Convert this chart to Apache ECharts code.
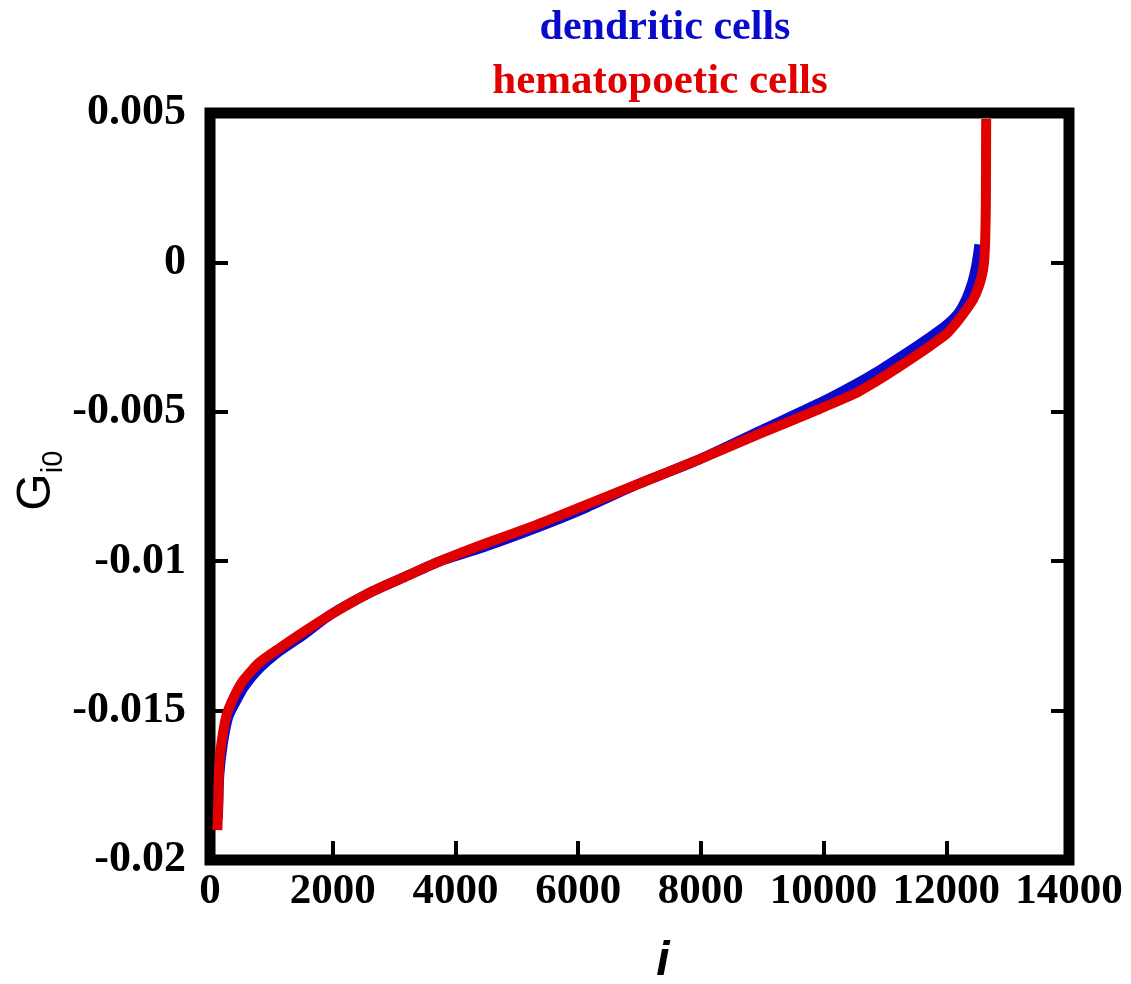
<!DOCTYPE html>
<html>
<head>
<meta charset="utf-8">
<script src="https://cdn.jsdelivr.net/npm/echarts@6/dist/echarts.min.js"></script>
<style>
  html, body { margin: 0; padding: 0; background: #fff; }
  #chart { width: 1131px; height: 984px; }
</style>
</head>
<body>
<div id="chart"></div>
<script>
// index i of the gene (sorted) and its G_i0 value
const dendriticI = [130, 150, 210, 300, 420, 560, 800, 1141, 1500, 1956, 2657, 3200, 3750, 4500, 5300,
  6030, 7000, 7967, 9000, 9940, 10500, 10920, 11300, 11734, 12000, 12195, 12330, 12420, 12480, 12520, 12540];
const dendriticG = [-0.0186, -0.0172, -0.0161, -0.0152, -0.0147, -0.0142, -0.0136, -0.0130, -0.0125, -0.0118, -0.0110, -0.0105, -0.0100, -0.0095, -0.0089,
  -0.0083, -0.0074, -0.0066, -0.0056, -0.0047, -0.0041, -0.0036, -0.0031, -0.0025, -0.0021, -0.0017, -0.0012, -0.0007, -0.0002, 0.0003, 0.0006];

const hematoI = [120, 135, 150, 200, 277, 400, 538, 800, 1141, 1500, 1956, 2657, 3200, 3750, 4500, 5300,
  6030, 7000, 7967, 9000, 9940, 10500, 10920, 11300, 11734, 12000, 12174, 12320, 12436, 12530, 12584, 12615, 12635, 12645, 12650];
const hematoG = [-0.0190, -0.0180, -0.0168, -0.0159, -0.0151, -0.0145, -0.0140, -0.0134, -0.0129, -0.0124, -0.0118, -0.0110, -0.0105, -0.0100, -0.0094, -0.0088,
  -0.0082, -0.0074, -0.0066, -0.0057, -0.0049, -0.0044, -0.0039, -0.0034, -0.0028, -0.0024, -0.0020, -0.0016, -0.00125, -0.0008, -0.0004, 0.0000, 0.0008, 0.0020, 0.0048];

const xTicks = [0, 2000, 4000, 6000, 8000, 10000, 12000, 14000];
const yTicks = [-0.02, -0.015, -0.01, -0.005, 0, 0.005];

const BLUE = '#0a0acc';
const RED = '#e00000';
const labelFont = 'Liberation Serif';

function pairs(xs, ys) {
  return xs.map((x, k) => [x, ys[k]]);
}

const chart = echarts.init(document.getElementById('chart'));

chart.setOption({
  backgroundColor: '#fff',
  animation: false,
  title: [
    {
      text: 'dendritic cells',
      left: 660, top: 2, textAlign: 'center',
      textStyle: {color: BLUE, fontFamily: labelFont, fontWeight: 'bold', fontSize: 42},
    },
    {
      text: 'hematopoetic cells',
      left: 655, top: 55, textAlign: 'center',
      textStyle: {color: RED, fontFamily: labelFont, fontWeight: 'bold', fontSize: 43},
    },
  ],
  grid: {
    left: 210, right: 62, top: 113, bottom: 124,
    show: true,
    borderColor: '#000',
    borderWidth: 11,
    backgroundColor: 'transparent',
  },
  xAxis: [
    {
      type: 'value',
      min: xTicks[0], max: xTicks[xTicks.length - 1], interval: 2000,
      axisLine: {show: false, onZero: false},
      splitLine: {show: false},
      axisTick: {show: true, inside: true, length: 19, lineStyle: {color: '#000', width: 4}},
      axisLabel: {
        margin: 10, color: '#000', fontFamily: labelFont, fontWeight: 'bold', fontSize: 43,
        showMinLabel: true, showMaxLabel: true,
        formatter: v => String(v),
      },
    },
  ],
  yAxis: [
    {
      type: 'value',
      min: yTicks[0], max: yTicks[yTicks.length - 1], interval: 0.005,
      axisLine: {show: false, onZero: false},
      splitLine: {show: false},
      axisTick: {show: true, inside: true, length: 18, lineStyle: {color: '#000', width: 4}},
      axisLabel: {
        margin: 24, color: '#000', fontFamily: labelFont, fontWeight: 'bold', fontSize: 44,
        formatter: v => String(parseFloat(v.toFixed(3))),
      },
    },
    {
      type: 'value',
      position: 'right',
      min: yTicks[0], max: yTicks[yTicks.length - 1], interval: 0.005,
      axisLine: {show: false, onZero: false},
      splitLine: {show: false},
      axisTick: {show: true, inside: true, length: 18, lineStyle: {color: '#000', width: 4}},
      axisLabel: {show: false},
    },
  ],
  graphic: [
    {
      type: 'group',
      x: 37, y: 492,
      rotation: Math.PI / 2,
      children: [
        {type: 'text', x: 0, y: 0, style: {text: 'G', font: '48px "Liberation Sans"', fill: '#000', textAlign: 'center', textVerticalAlign: 'middle'}},
        {type: 'text', x: 30, y: 17, style: {text: 'i0', font: '29px "Liberation Sans"', fill: '#000', textAlign: 'center', textVerticalAlign: 'middle'}},
      ],
    },
    {
      type: 'text', x: 663, y: 962,
      style: {text: 'i', font: 'italic bold 48px "Liberation Sans"', fill: '#000', textAlign: 'center', textVerticalAlign: 'middle'},
    },
  ],
  series: [
    {
      name: 'dendritic cells',
      type: 'line',
      showSymbol: false,
      symbol: 'none',
      smooth: 0.2,
      lineStyle: {color: BLUE, width: 10, join: 'round'},
      data: pairs(dendriticI, dendriticG),
      z: 2,
    },
    {
      name: 'hematopoetic cells',
      type: 'line',
      showSymbol: false,
      symbol: 'none',
      smooth: 0.2,
      lineStyle: {color: RED, width: 10, join: 'round'},
      data: pairs(hematoI, hematoG),
      z: 3,
    },
  ],
});
</script>
</body>
</html>
